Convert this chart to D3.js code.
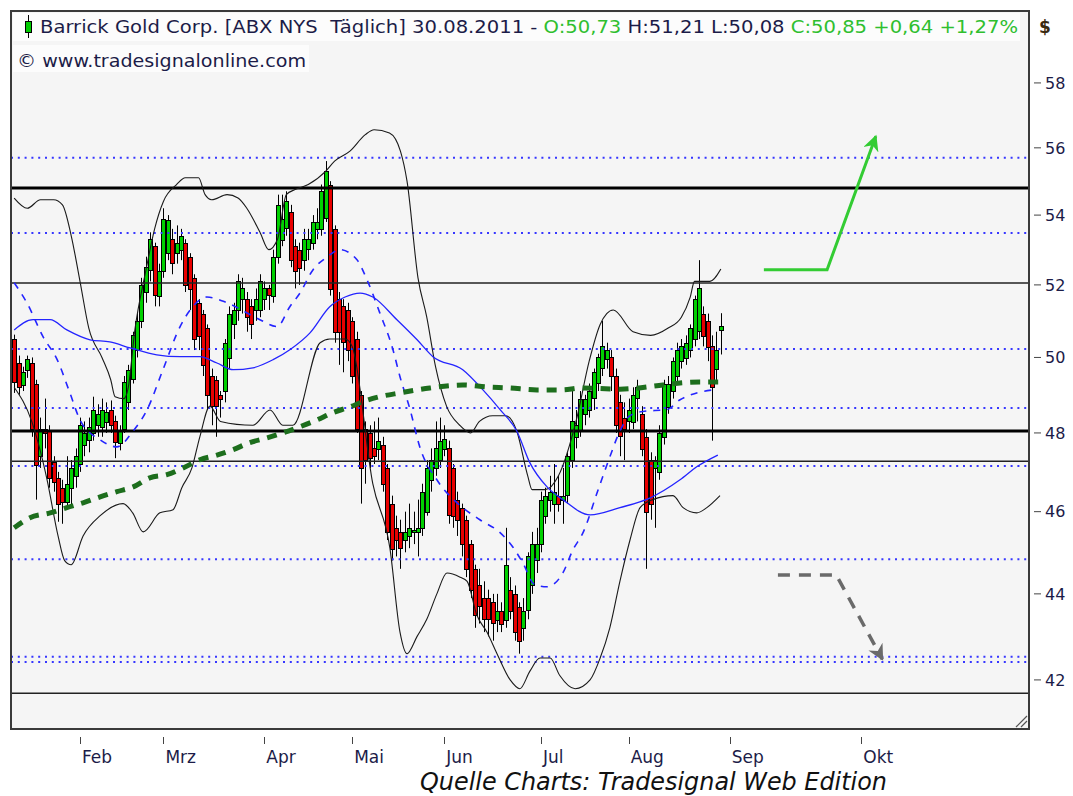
<!DOCTYPE html>
<html>
<head>
<meta charset="utf-8">
<script src="https://cdn.jsdelivr.net/npm/d3@7"></script>
<style>
  html, body { margin: 0; padding: 0; background: #fff; }
  svg { display: block; }
  text { font-family: "DejaVu Sans", sans-serif; }
</style>
</head>
<body>
<div id="chart"></div>
<script>
// Bar index 0 = 1 Feb 2011, one step per trading day (calendar days after the last bar)
const firstBar = -15;

const opens = [
  50.50,49.85,49.25,49.65,49.85,49.30,47.40,48.10,48.05,47.25,46.85,46.60,46.25,46.60,46.90,
  47.20,47.70,47.80,48.00,48.20,48.15,48.30,48.60,48.30,47.75,48.10,48.80,49.40,50.20,51.00,51.80,52.40,53.10,51.70,
  52.40,52.90,53.30,52.90,53.00,53.20,52.80,52.20,51.50,51.20,50.80,49.50,49.40,49.00,49.10,50.00,50.90,51.30,51.60,51.60,51.40,51.30,51.30,
  51.60,51.90,51.70,52.80,53.30,53.60,54.10,53.10,53.00,52.70,53.00,53.20,53.60,53.60,53.90,54.90,53.60,51.60,51.40,51.30,
  51.00,50.50,49.00,48.10,48.00,47.60,47.60,47.70,47.10,46.20,45.60,45.50,45.30,45.40,45.50,45.50,45.60,46.00,46.80,47.10,47.30,
  47.60,47.60,47.10,46.30,46.10,45.80,45.20,44.60,44.20,43.90,43.90,43.80,43.40,43.60,43.40,44.10,44.00,43.70,43.20,43.60,44.20,44.80,
  45.20,45.90,46.30,46.20,46.40,46.30,46.40,47.30,47.90,48.10,48.50,48.60,48.90,49.30,49.70,49.95,50.00,49.50,48.80,48.40,
  48.30,48.30,48.90,48.50,47.90,47.30,47.10,47.00,47.90,48.70,49.10,49.50,49.90,50.00,50.20,50.50,50.70,51.20,51.00,50.30,49.70,50.73
];
const highs = [
  50.62,50.05,49.75,50.05,50.00,49.40,48.40,48.90,48.20,47.40,47.00,46.80,47.40,47.30,47.60,
  48.40,48.30,48.40,48.95,48.75,48.90,48.80,48.85,48.45,48.20,49.50,49.80,50.70,51.20,52.20,52.80,53.50,53.20,52.60,
  54.20,54.00,53.60,53.70,53.60,53.30,52.90,52.30,51.60,51.30,50.90,49.70,49.50,49.10,50.50,51.40,51.50,52.30,52.20,51.80,51.60,51.90,52.30,
  52.10,52.00,53.00,54.60,54.60,54.70,54.30,53.30,53.20,53.60,53.60,54.00,54.20,54.90,55.60,55.00,53.70,51.80,51.60,51.50,
  51.10,50.70,49.10,48.30,48.20,48.30,48.40,47.90,47.20,46.40,45.90,45.80,46.00,46.20,46.00,46.30,46.70,47.30,47.60,48.30,48.40,
  48.20,47.80,47.20,46.50,46.20,45.90,45.30,44.70,44.60,44.30,44.10,44.00,44.00,43.80,45.60,44.40,44.20,43.80,43.90,45.00,45.50,45.60,
  46.50,46.60,46.90,47.20,46.90,47.10,47.50,49.10,48.60,49.10,49.00,49.30,49.70,50.10,51.00,50.40,50.20,49.70,49.00,48.80,
  48.90,49.20,49.40,48.70,48.10,47.50,47.40,48.20,49.40,49.50,50.00,50.40,50.50,50.60,50.90,51.70,52.70,51.40,51.20,50.60,50.70,51.21
];
const lows = [
  49.05,49.00,49.10,49.45,47.90,46.30,47.10,47.60,46.60,46.50,45.75,45.70,46.10,46.10,46.60,
  47.00,47.40,47.50,47.80,47.90,47.90,48.00,48.00,47.35,47.55,48.00,48.60,49.30,50.00,50.80,51.50,52.10,51.40,51.40,
  52.20,52.70,52.30,52.60,52.70,51.80,51.30,50.20,50.20,49.50,48.60,48.20,47.90,48.40,48.80,49.70,50.50,51.00,51.20,50.70,50.50,51.00,51.10,
  51.30,51.30,51.50,52.60,53.10,53.40,52.50,51.90,52.00,52.40,52.70,53.00,53.30,53.40,53.80,51.70,50.40,49.80,49.60,49.90,
  49.30,48.00,46.20,46.70,47.10,47.20,47.30,46.50,45.30,44.80,44.90,44.60,45.00,45.10,45.20,44.90,45.40,45.90,46.50,46.90,47.10,
  47.40,45.70,45.60,45.40,44.90,44.40,43.90,43.20,43.30,43.10,43.00,42.90,43.10,43.10,43.20,43.40,42.90,42.60,42.90,43.40,44.00,44.50,
  45.00,45.70,46.00,45.70,46.00,45.70,46.20,47.10,47.60,47.90,48.20,48.40,48.60,49.10,49.50,49.70,49.10,48.00,47.40,47.30,
  48.00,48.10,48.30,47.40,44.60,45.80,45.60,46.80,47.70,48.50,48.90,49.30,49.70,49.80,50.00,50.30,50.50,50.30,49.90,47.80,49.30,50.08
];
const closes = [
  49.35,49.20,49.60,49.95,48.10,47.20,48.10,48.00,46.85,46.75,46.20,46.25,46.70,47.10,47.40,
  48.20,48.00,48.15,48.60,48.50,48.60,48.55,48.20,47.75,48.05,49.35,49.65,50.60,51.00,52.00,52.50,53.30,51.70,52.40,
  53.90,53.85,52.60,53.20,53.40,52.00,51.90,50.50,50.60,49.80,49.00,48.70,48.70,48.90,50.40,51.20,51.30,52.10,51.90,51.10,50.90,51.60,52.10,
  51.90,51.70,52.80,54.30,53.90,54.40,52.70,52.40,52.50,53.30,53.30,53.80,53.80,54.70,55.30,51.90,50.70,50.70,50.40,50.20,
  49.50,48.10,47.10,47.30,47.35,47.40,47.80,46.70,45.50,45.10,45.30,45.10,45.50,45.60,45.55,45.60,46.50,47.10,47.30,47.60,47.80,
  47.85,45.90,45.90,45.80,45.20,44.60,44.10,43.50,43.70,43.40,43.40,43.30,43.60,43.30,44.70,43.60,43.10,42.90,43.60,44.90,45.20,45.20,
  46.30,46.40,46.50,46.50,46.20,46.40,47.40,48.30,48.20,48.90,48.90,49.10,49.60,50.00,50.30,50.20,49.50,48.20,47.90,48.10,
  48.60,49.00,49.20,47.60,46.00,46.20,47.30,48.00,49.30,49.30,49.90,50.20,50.30,50.40,50.80,51.60,51.90,50.60,50.30,49.20,50.21,50.85
];

const monthLabels = ["Feb", "Mrz", "Apr", "Mai", "Jun", "Jul", "Aug", "Sep", "Okt"];
const monthTicks = [0, 19, 42, 62, 83, 105, 125, 148, 178];
const priceTicks = [42, 44, 46, 48, 50, 52, 54, 56, 58];

// indicator lines: [bar, price]
const upperBand = [[-15,54.5],[-12,54.2],[-9,54.45],[-6,54.45],[-4,54.3],[-2,53.4],[0,52.1],[2,50.8],[5,50.0],[7,49.4],[8,48.95],[10,48.9],[11,49.2],[12.5,50.75],[15,52.4],[17,53.6],[19,54.4],[22,54.9],[24,55.1],[27,55.1],[28.5,54.6],[30,54.45],[33.5,54.6],[36,54.5],[38,54.2],[41,53.5],[43,53.0],[45,53.3],[47,54.6],[49,54.75],[52,54.9],[56,55.3],[58,55.6],[61.5,55.9],[65,56.4],[67,56.55],[70.5,56.45],[73,55.9],[74.5,55.0],[77,52.2],[79,51.1],[81,49.75],[83.5,48.7],[86.5,48.2],[89,48.0],[91,48.3],[94,48.45],[97,48.45],[99.5,48.05],[102,46.9],[103,46.55],[106,46.55],[109,46.9],[113,48.3],[116,49.9],[118.5,50.9],[120,51.2],[121.5,51.3],[126,50.7],[130,50.6],[134,50.8],[137,51.1],[139,51.65],[140,52.1],[143.5,52.1],[146,52.45]];
const lowerBand = [[-15,49.2],[-11,48.3],[-7.5,46.8],[-5,45.4],[-3.5,44.8],[-2,44.7],[0.7,45.4],[4.6,45.9],[9.8,46.2],[12,45.97],[14.4,45.5],[18.2,45.97],[21.2,46.05],[23.2,46.6],[25.5,47.1],[27.3,47.9],[29.6,48.7],[32,48.3],[39.4,48.2],[43.3,48.6],[46.2,48.2],[48.5,48.2],[54.7,50.4],[56.9,50.5],[60.4,50.5],[62,50.3],[66.7,46.7],[70.6,45.1],[72.9,43.1],[74.5,42.6],[76.8,43.0],[79,43.4],[81.3,44.0],[83.6,44.5],[86.6,44.4],[88.2,44.3],[90.4,43.5],[92.7,43.1],[95,42.6],[98,42.0],[100.2,41.8],[102.5,42.2],[104.8,42.5],[107.1,42.5],[109.3,42.1],[112.8,41.8],[116.2,42.0],[118.5,42.5],[120.7,43.2],[123,44.3],[125.3,45.3],[127.6,46.1],[130.5,46.3],[135.1,46.4],[137.4,46.1],[140.5,45.97],[142.8,46.1],[145.8,46.4]];
const ma50 = [[-15,50.75],[-10.7,51.03],[-6.8,51.03],[-3,50.75],[2.3,50.48],[6.8,50.42],[11.4,50.26],[17.5,50.07],[22.8,50.02],[27.3,50.02],[31.2,49.85],[34.9,49.67],[39.4,49.72],[44,49.94],[47.8,50.21],[52.4,50.67],[56.9,51.39],[60.4,51.66],[63.8,51.77],[66.7,51.66],[72.2,51.03],[76.8,50.48],[80.4,50.02],[87.2,49.67],[91.8,49.13],[95.7,48.61],[99.5,48.05],[102.5,47.23],[106.4,46.62],[110,46.3],[116.2,45.92],[123,46.1],[129.8,46.34],[136.7,46.8],[140.5,47.13],[145.3,47.43]];
const ma20 = [[-15,52.06],[-12.1,51.5],[-8.4,50.56],[-5.2,49.94],[-2.3,49.05],[0,48.34],[4.6,47.82],[8.4,47.64],[12.1,48.05],[15.3,48.61],[18.9,49.67],[22.8,50.84],[25.7,51.39],[28.9,51.66],[33.5,51.5],[41,51.03],[44.9,50.84],[47.8,51.39],[50.1,51.77],[53.1,52.43],[56.3,52.79],[59.2,53.0],[63.1,52.71],[65.4,52.14],[68.3,51.22],[71.3,50.21],[72.9,49.48],[75.2,48.61],[77.4,47.64],[81.3,46.8],[85.9,46.22],[91.1,45.8],[95.7,45.48],[98.6,45.13],[100.9,44.74],[103.6,44.22],[106.4,44.17],[110,44.5],[112.3,45.06],[114.6,45.48],[117.8,46.47],[120.7,47.38],[123,48.05],[125.3,48.45],[128.2,48.56],[133.7,48.61],[136.7,48.87],[140.5,49.05],[144.2,49.13]];
const ma200 = [[-15,45.6],[-11.4,45.85],[-6.8,45.97],[-3,46.1],[0.7,46.22],[4.6,46.37],[8.4,46.5],[12.1,46.62],[15.9,46.85],[19.8,46.93],[23.5,47.1],[27.3,47.31],[31.2,47.43],[34.9,47.57],[38.7,47.75],[42.6,47.87],[46.2,48.0],[50.1,48.16],[54,48.34],[57.6,48.53],[61.5,48.68],[64.5,48.82],[68.3,48.95],[72.9,49.05],[79.7,49.18],[87.2,49.26],[92.7,49.21],[98,49.18],[104.1,49.13],[110,49.13],[113.9,49.18],[123,49.15],[132.8,49.26],[137.3,49.32],[141.2,49.34],[145.8,49.34]];

const thickLevels = [54.8, 48.05];
const thinLevels = [52.05, 47.27, 41.7];
const dottedLevels = [55.7, 53.48, 50.23, 48.65, 47.15, 44.83, 42.53, 42.41];

const upArrow = [[155.8, 52.43], [170.2, 52.43], [181.3, 56.35]];
const downArrow = [[159, 44.45], [172.3, 44.45], [182.8, 42.47]];

const W = 1073, H = 796;
const plot = { left: 11, right: 1029, top: 11, bottom: 729 };

const x = d3.scaleLinear().domain([-15.72, 216.2]).range([plot.left, plot.right]);
const y = d3.scaleLog().domain([40.9, 60.3]).range([plot.bottom, plot.top]);

const svg = d3.select("#chart").append("svg")
    .attr("width", W)
    .attr("height", H);

svg.append("rect").attr("width", W).attr("height", H).attr("fill", "#fff");

const defs = svg.append("defs");
defs.append("clipPath").attr("id", "clip")
    .append("rect")
    .attr("x", plot.left).attr("y", plot.top)
    .attr("width", plot.right - plot.left).attr("height", plot.bottom - plot.top);

function arrowHead(id, color) {
    defs.append("marker")
        .attr("id", id)
        .attr("viewBox", "0 0 10 10")
        .attr("refX", 9).attr("refY", 5)
        .attr("markerUnits", "userSpaceOnUse")
        .attr("markerWidth", 18).attr("markerHeight", 16)
        .attr("orient", "auto")
        .append("path")
        .attr("d", "M0,0 L10,5 L0,10 L3,5 Z")
        .attr("fill", color);
}
arrowHead("headGreen", "#33cc33");
arrowHead("headGray", "#6a6a6a");

// plot background
svg.append("rect")
    .attr("x", plot.left).attr("y", plot.top)
    .attr("width", plot.right - plot.left).attr("height", plot.bottom - plot.top)
    .attr("fill", "#f5f5f5");

const g = svg.append("g").attr("clip-path", "url(#clip)");

// candles
const bars = opens.map((o, i) => ({ i: firstBar + i, o, h: highs[i], l: lows[i], c: closes[i] }));

g.append("g").selectAll("line")
    .data(bars)
    .join("line")
    .attr("x1", d => Math.round(x(d.i)) + 0.5)
    .attr("x2", d => Math.round(x(d.i)) + 0.5)
    .attr("y1", d => y(d.h))
    .attr("y2", d => y(d.l))
    .attr("stroke", "#000")
    .attr("stroke-width", 1);

g.append("g").selectAll("rect")
    .data(bars)
    .join("rect")
    .attr("x", d => Math.round(x(d.i)) - 1.5)
    .attr("width", 4)
    .attr("y", d => Math.round(y(Math.max(d.o, d.c))) + 0.5)
    .attr("height", d => Math.max(2, Math.round(y(Math.min(d.o, d.c)) - y(Math.max(d.o, d.c)))))
    .attr("fill", d => d.c >= d.o ? "#00d000" : "#e80000")
    .attr("stroke", "#000")
    .attr("stroke-width", 1);

// horizontal levels
g.append("g").selectAll("line")
    .data(dottedLevels)
    .join("line")
    .attr("x1", plot.left).attr("x2", plot.right)
    .attr("y1", d => y(d)).attr("y2", d => y(d))
    .attr("stroke", "#3636ff")
    .attr("stroke-width", 2)
    .attr("stroke-dasharray", "2,4.8");

g.append("g").selectAll("line")
    .data(thinLevels)
    .join("line")
    .attr("x1", plot.left).attr("x2", plot.right)
    .attr("y1", d => y(d)).attr("y2", d => y(d))
    .attr("stroke", "#222")
    .attr("stroke-width", 1.5);

g.append("g").selectAll("line")
    .data(thickLevels)
    .join("line")
    .attr("x1", plot.left).attr("x2", plot.right)
    .attr("y1", d => y(d)).attr("y2", d => y(d))
    .attr("stroke", "#000")
    .attr("stroke-width", 3);

// indicators
const line = d3.line()
    .x(d => x(d[0]))
    .y(d => y(d[1]))
    .curve(d3.curveMonotoneX);

g.append("path").datum(upperBand).attr("d", line)
    .attr("fill", "none").attr("stroke", "#1a1a1a").attr("stroke-width", 1.1);
g.append("path").datum(lowerBand).attr("d", line)
    .attr("fill", "none").attr("stroke", "#1a1a1a").attr("stroke-width", 1.1);
g.append("path").datum(ma50).attr("d", line)
    .attr("fill", "none").attr("stroke", "#2424ff").attr("stroke-width", 1.3);
g.append("path").datum(ma20).attr("d", line)
    .attr("fill", "none").attr("stroke", "#2424ff").attr("stroke-width", 1.6)
    .attr("stroke-dasharray", "7,7");
g.append("path").datum(ma200).attr("d", line)
    .attr("fill", "none").attr("stroke", "#1d6e1d").attr("stroke-width", 5)
    .attr("stroke-dasharray", "10,8");

// forecast arrows
const straight = d3.line().x(d => x(d[0])).y(d => y(d[1]));
g.append("path").datum(upArrow).attr("d", straight)
    .attr("fill", "none").attr("stroke", "#33cc33").attr("stroke-width", 3)
    .attr("marker-end", "url(#headGreen)");
g.append("path").datum(downArrow).attr("d", straight)
    .attr("fill", "none").attr("stroke", "#6a6a6a").attr("stroke-width", 3.5)
    .attr("stroke-dasharray", "12,9")
    .attr("marker-end", "url(#headGray)");

// header
svg.append("rect").attr("x", 13).attr("y", 13).attr("width", 1007).attr("height", 28).attr("fill", "#fcfcfc");
svg.append("rect").attr("x", 13).attr("y", 45).attr("width", 296).attr("height", 27).attr("fill", "#fcfcfc");

const icon = svg.append("g");
icon.append("line").attr("x1", 28.5).attr("x2", 28.5).attr("y1", 15).attr("y2", 38).attr("stroke", "#000");
icon.append("rect").attr("x", 25.5).attr("y", 21.5).attr("width", 6).attr("height", 11)
    .attr("fill", "#00cc00").attr("stroke", "#000");

const dark = "#1c1c48", green = "#2fbf2f";
const header = svg.append("text")
    .attr("x", 40).attr("y", 33)
    .attr("font-size", 17)
    .attr("textLength", 978)
    .attr("lengthAdjust", "spacingAndGlyphs")
    .style("white-space", "pre");
header.append("tspan").attr("fill", dark).text("Barrick Gold Corp. [ABX NYS  Täglich] 30.08.2011 - ");
header.append("tspan").attr("fill", green).text("O:50,73");
header.append("tspan").attr("fill", dark).text(" H:51,21 L:50,08 ");
header.append("tspan").attr("fill", green).text("C:50,85 +0,64 +1,27%");

svg.append("text")
    .attr("x", 17).attr("y", 67)
    .attr("font-size", 17)
    .attr("textLength", 289)
    .attr("lengthAdjust", "spacingAndGlyphs")
    .attr("fill", dark)
    .text("© www.tradesignalonline.com");

svg.append("rect")
    .attr("x", plot.left).attr("y", plot.top)
    .attr("width", plot.right - plot.left).attr("height", plot.bottom - plot.top)
    .attr("fill", "none").attr("stroke", "#3a3a3a").attr("stroke-width", 2);

// resize grip
svg.append("path")
    .attr("d", "M1027,716 L1016,727 M1027,721 L1021,727")
    .attr("stroke", "#555").attr("stroke-width", 1.2).attr("fill", "none");

// right price axis
svg.append("text").attr("x", 1039).attr("y", 33).attr("font-size", 17).attr("font-weight", "bold")
    .attr("fill", "#3a2a10").text("$");

const yAxis = svg.append("g");
yAxis.selectAll("line")
    .data(priceTicks)
    .join("line")
    .attr("x1", 1034).attr("x2", 1041)
    .attr("y1", d => y(d)).attr("y2", d => y(d))
    .attr("stroke", "#444");
yAxis.selectAll("text")
    .data(priceTicks)
    .join("text")
    .attr("x", 1045)
    .attr("y", d => y(d))
    .attr("dy", "0.36em")
    .attr("font-size", 16)
    .attr("fill", dark)
    .text(d => d);

// month axis
const xAxis = svg.append("g");
xAxis.selectAll("line")
    .data(monthTicks)
    .join("line")
    .attr("x1", d => Math.round(x(d)) + 0.5).attr("x2", d => Math.round(x(d)) + 0.5)
    .attr("y1", 737).attr("y2", 744)
    .attr("stroke", "#444");
xAxis.selectAll("text")
    .data(monthTicks)
    .join("text")
    .attr("x", d => x(d) + 2)
    .attr("y", 763)
    .attr("font-size", 17)
    .attr("fill", dark)
    .text((d, i) => monthLabels[i]);

svg.append("text")
    .attr("x", 420).attr("y", 790)
    .attr("font-family", "Liberation Sans, Arial, sans-serif")
    .attr("font-style", "italic")
    .attr("font-size", 24)
    .attr("textLength", 467)
    .attr("lengthAdjust", "spacingAndGlyphs")
    .attr("fill", "#111")
    .text("Quelle Charts: Tradesignal Web Edition");
</script>
</body>
</html>
